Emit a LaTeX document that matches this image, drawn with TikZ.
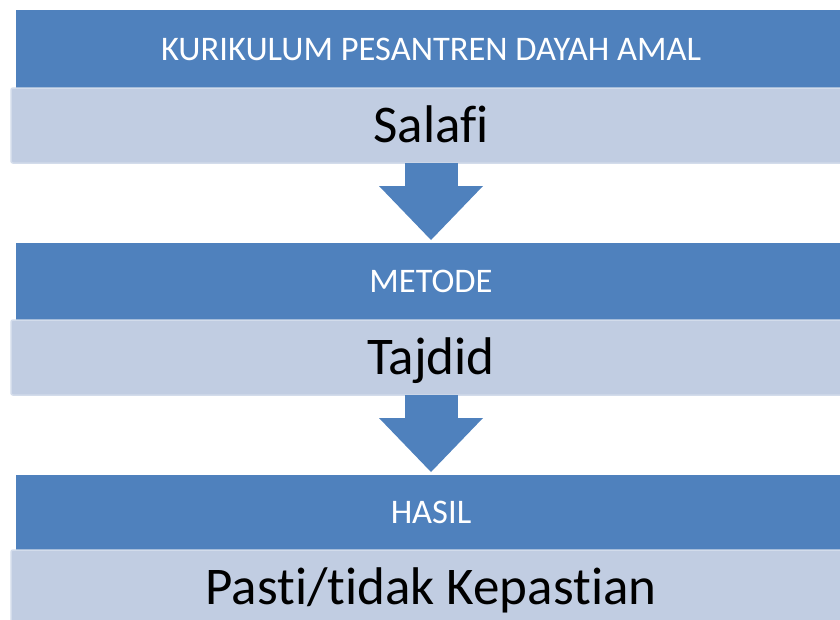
\documentclass[tikz,border=0pt]{standalone}
\usepackage{fontspec}
\setmainfont{Carlito}[Ligatures={NoCommon,NoContextual,NoRare},Contextuals=NoAlternate]
\usepackage{tikz}
\usetikzlibrary{arrows.meta,positioning}

\definecolor{barblue}{HTML}{4F81BD}
\definecolor{barlight}{HTML}{C1CDE2}
\definecolor{barrim}{HTML}{D3DCEB}

\tikzset{
  darkbar/.style={fill=barblue, text=white, anchor=north west, outer sep=0pt, inner sep=0pt,
    minimum width=830pt, text height=22pt, text depth=0pt, font=\fontsize{34.5}{41}\selectfont},
  lightbar/.style={fill=barlight, draw=barrim, line width=1.5pt, rounded corners=2pt, anchor=north west,
    outer sep=0pt, inner sep=0pt, minimum width=840pt, minimum height=75pt,
    text height=34pt, text depth=0pt, font=\fontsize{53}{62}\selectfont},
  downarrow/.style={draw=barblue, line width=53pt, shorten >=3pt,
    -{Triangle[length=54pt,width=104pt,line width=0pt]}}
}

\begin{document}
\begin{tikzpicture}[x=1pt,y=-1pt]
\useasboundingbox (0,0) rectangle (840,619);
\node[darkbar, minimum height=78pt] (kurikulum) at (16,10) {KURIKULUM PESANTREN DAYAH AMAL};
\node[lightbar] (salafi) at (11,88) {Salafi};
\node[darkbar, minimum height=77pt] (metode) at (16,243) {METODE};
\node[lightbar] (tajdid) at (11,320) {Tajdid};
\node[darkbar, minimum height=75pt] (hasil) at (16,475) {HASIL};
\node[lightbar] (kepastian) at (11,550) {Pasti/tidak Kepastian};
\draw[downarrow] (salafi.south) -- (metode.north);
\draw[downarrow] (tajdid.south) -- (hasil.north);
\end{tikzpicture}
\end{document}
